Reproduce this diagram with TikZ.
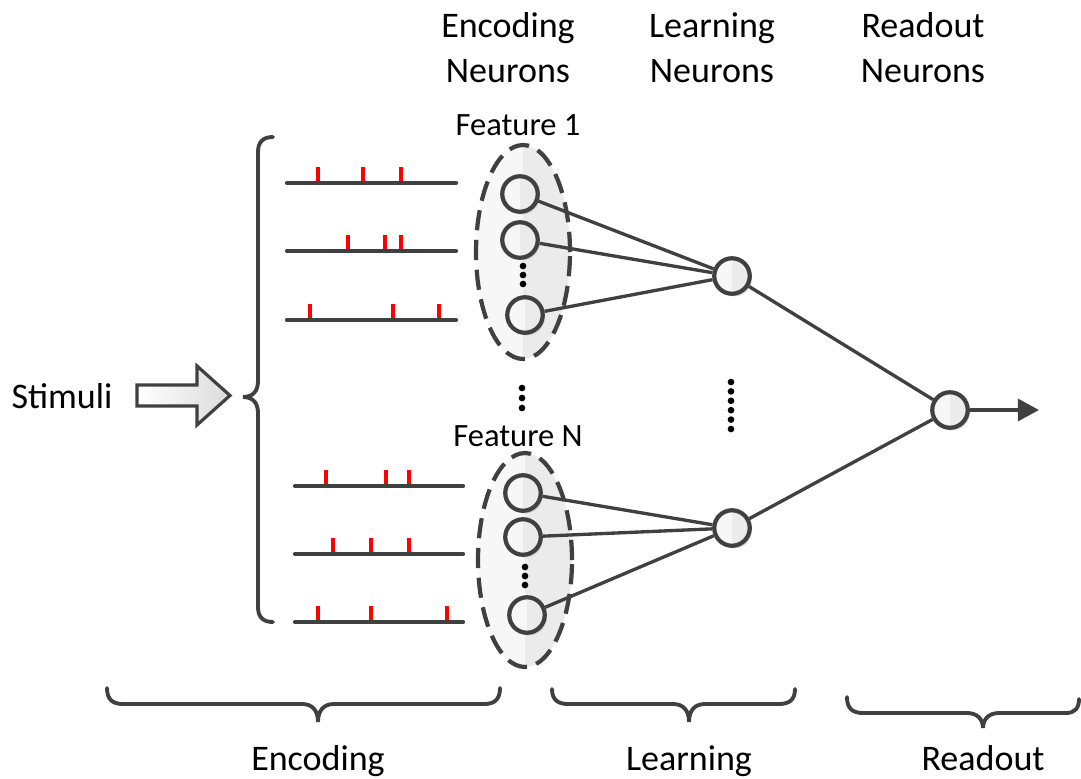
\documentclass[tikz,border=0pt]{standalone}
\usepackage{fontspec}
\setmainfont{Carlito}
\usetikzlibrary{arrows.meta,shapes.geometric,shadows}
\definecolor{dk}{HTML}{404040}
\definecolor{lt}{HTML}{F7F7F7}
\definecolor{md}{HTML}{EBEBEB}
\begin{document}
\begin{tikzpicture}[x=0.02cm,y=-0.02cm,
  halffill/.style={fill=lt, path picture={\fill[md] (path picture bounding box.north) rectangle (path picture bounding box.south east);}},
  neuron/.style={circle, draw=dk, line width=2.4pt, minimum size=0.71cm, inner sep=0pt, halffill,
     drop shadow={shadow xshift=1.2pt, shadow yshift=-1.5pt, fill=black!30, opacity=0.5}},
  encgroup/.style={ellipse, draw=dk, line width=2.4pt, dash pattern=on 11.5pt off 5.5pt, minimum width=1.88cm, minimum height=4.28cm, inner sep=0pt, halffill},
  conn/.style={draw=dk, line width=1.9pt},
  train/.style={draw=dk, line width=2.4pt, line cap=round},
  spike/.style={draw=red, line width=2.2pt},
  brace/.style={draw=dk, line width=2.2pt, line cap=round},
  big/.style={font=\fontsize{20.5}{25.5}\selectfont, align=center, inner sep=0pt},
  small/.style={font=\fontsize{18.5}{22}\selectfont, inner sep=0pt},
  dot/.style={circle, fill=black, inner sep=0pt, minimum size=3.8pt}]
\useasboundingbox (0,0) rectangle (1081,778);

% titles
\node[big] (tEnc) at (508,48) {Encoding\\Neurons};
\node[big] (tLrn) at (712,48) {Learning\\Neurons};
\node[big] (tRd) at (923,48) {Readout\\Neurons};

% stimuli
\node[big, anchor=base] (stim) at (62,408) {Stimuli};
\shade[left color=white, right color=black!14, draw=dk, line width=1.8pt, line join=miter]
  (137,385) -- (197,385) -- (197,366) -- (230,395.5) -- (197,425) -- (197,406) -- (137,406) -- cycle;

% big left brace
\draw[brace] (273,137) .. controls (263,137) and (258,142) .. (258,152) -- (258,381)
  .. controls (258,391) and (253,397) .. (243,397)
  .. controls (253,397) and (258,403) .. (258,413) -- (258,607)
  .. controls (258,617) and (263,622) .. (273,622);

% spike trains group 1
\foreach \x in {318,363,401} \draw[spike] (\x,183) -- (\x,167);
\foreach \x in {348,385,401} \draw[spike] (\x,251) -- (\x,235);
\foreach \x in {310,393,439} \draw[spike] (\x,320) -- (\x,304);
\foreach \y in {183,251,320} \draw[train] (287,\y) -- (456,\y);
% spike trains group N
\foreach \x in {326,386,409} \draw[spike] (\x,486) -- (\x,470);
\foreach \x in {333,371,409} \draw[spike] (\x,554) -- (\x,538);
\foreach \x in {318,371,447} \draw[spike] (\x,622) -- (\x,606);
\foreach \y in {486,554,622} \draw[train] (295,\y) -- (463,\y);

% encoding groups
\node[encgroup] (g1) at (523,252) {};
\node[encgroup] (g2) at (525,560) {};
\node[small] (f1) at (518,125) {Feature 1};
\node[small] (fN) at (518,436) {Feature N};

% neurons
\node[neuron] (e11) at (520,194) {};
\node[neuron] (e12) at (520,240) {};
\node[neuron] (e13) at (525,315) {};
\node[neuron] (e21) at (523,493) {};
\node[neuron] (e22) at (523,537) {};
\node[neuron] (e23) at (527,615) {};
\node[neuron] (l1) at (732,276) {};
\node[neuron] (l2) at (732,528) {};
\node[neuron] (r) at (950,410) {};
\coordinate (out) at (1039,410);

% dots
\foreach \y in {266,275,284} \node[dot] at (523,\y) {};
\foreach \y in {567,576,585} \node[dot] at (525,\y) {};
\foreach \y in {388,398,408} \node[dot] at (522,\y) {};
\foreach \y in {382,391.4,400.8,410.2,419.6,429} \node[dot] at (731,\y) {};

% connections
\foreach \n in {e11,e12,e13} \draw[conn] (\n) -- (l1);
\foreach \n in {e21,e22,e23} \draw[conn] (\n) -- (l2);
\draw[conn] (l1) -- (r);
\draw[conn] (l2) -- (r);
\draw[conn, -{Triangle[length=12pt,width=12.5pt]}] (r) -- (out);

% bottom braces
\draw[brace] (107,688) .. controls (107,699) and (112,704) .. (123,704) -- (302,704)
  .. controls (312,704) and (318,710) .. (318,722)
  .. controls (318,710) and (324,704) .. (334,704) -- (484,704)
  .. controls (495,704) and (500,699) .. (500,688);
\draw[brace] (552,689) .. controls (552,699) and (557,704) .. (568,704) -- (673,704)
  .. controls (683,704) and (689,710) .. (689,722)
  .. controls (689,710) and (695,704) .. (705,704) -- (779,704)
  .. controls (790,704) and (795,699) .. (795,689);
\draw[brace] (847,697) .. controls (847,708) and (852,713) .. (863,713) -- (967,713)
  .. controls (977,713) and (983,719) .. (983,728)
  .. controls (983,719) and (989,713) .. (999,713) -- (1066,713)
  .. controls (1075,713) and (1079,708) .. (1079,699);

\node[big, anchor=base] (bEnc) at (318,770) {Encoding};
\node[big, anchor=base] (bLrn) at (689,770) {Learning};
\node[big, anchor=base] (bRd) at (983,770) {Readout};
\end{tikzpicture}
\end{document}
